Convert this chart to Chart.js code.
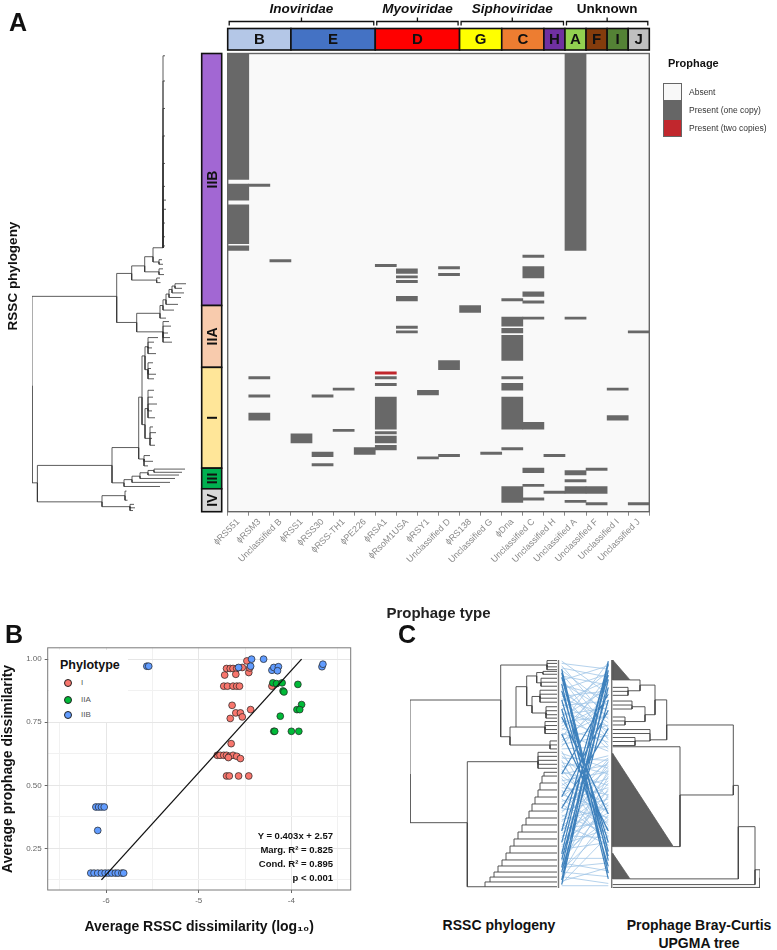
<!DOCTYPE html>
<html>
<head>
<meta charset="utf-8">
<script src="https://cdn.jsdelivr.net/npm/chart.js@4.4.1/dist/chart.umd.min.js"></script>
<style>
  body { margin: 0; width: 777px; height: 950px; position: relative; background: #fff; overflow: hidden;
         font-family: 'Liberation Sans', Arial, sans-serif; color: #111; }
  canvas { position: absolute; }
  .t { position: absolute; white-space: nowrap; line-height: 1; }
  .lg { position: absolute; width: 19px; height: 18px; border: 1px solid #666; box-sizing: border-box; }
  .dot { position: absolute; width: 8px; height: 8px; border-radius: 50%; border: 0.8px solid #222; box-sizing: border-box; }
</style>
</head>
<body>
<canvas id="treeA" width="200" height="630" style="left:0;top:0"></canvas>
<canvas id="heat" width="587" height="630" style="left:190px;top:0"></canvas>
<canvas id="scatter" width="390" height="310" style="left:0;top:640px"></canvas>
<canvas id="tangle" width="382" height="260" style="left:395px;top:640px"></canvas>

<div class="t" style="left:9px;top:10px;font-weight:bold;font-size:25px">A</div>
<div class="t" style="left:13px;top:276px;transform:translate(-50%,-50%) rotate(-90deg);font-weight:bold;font-size:13.5px">RSSC phylogeny</div>

<div class="t" style="left:668px;top:58px;font-weight:bold;font-size:11px">Prophage</div>
<div class="lg" style="left:663px;top:83px;background:#f8f8f8"></div>
<div class="lg" style="left:663px;top:101px;background:#666"></div>
<div class="lg" style="left:663px;top:119px;background:#c1272d"></div>
<div class="t" style="left:689px;top:88px;font-size:8.5px;color:#333">Absent</div>
<div class="t" style="left:689px;top:106px;font-size:8.5px;color:#333">Present (one copy)</div>
<div class="t" style="left:689px;top:124px;font-size:8.5px;color:#333">Present (two copies)</div>

<div class="t" style="left:5px;top:622px;font-weight:bold;font-size:25px">B</div>
<div class="t" style="left:49px;top:650px;width:79px;height:72px;background:#fff"></div>
<div class="t" style="left:60px;top:659px;font-weight:bold;font-size:12.5px">Phylotype</div>
<div class="dot" style="left:64px;top:679px;background:#F8766D"></div>
<div class="dot" style="left:64px;top:696px;background:#00BA38"></div>
<div class="dot" style="left:64px;top:711px;background:#619CFF"></div>
<div class="t" style="left:81px;top:679px;font-size:8px;color:#555">I</div>
<div class="t" style="left:81px;top:696px;font-size:8px;color:#555">IIA</div>
<div class="t" style="left:81px;top:711px;font-size:8px;color:#555">IIB</div>
<div class="t" style="left:333px;top:831px;transform:translateX(-100%);font-weight:bold;font-size:9.5px">Y = 0.403x + 2.57</div>
<div class="t" style="left:333px;top:845px;transform:translateX(-100%);font-weight:bold;font-size:9.5px">Marg. R² = 0.825</div>
<div class="t" style="left:333px;top:859px;transform:translateX(-100%);font-weight:bold;font-size:9.5px">Cond. R² = 0.895</div>
<div class="t" style="left:333px;top:873px;transform:translateX(-100%);font-weight:bold;font-size:9.5px">p &lt; 0.001</div>

<div class="t" style="left:398px;top:622px;font-weight:bold;font-size:25px">C</div>
<div class="t" style="left:499px;top:925px;transform:translate(-50%,-50%);font-weight:bold;font-size:14px">RSSC phylogeny</div>
<div class="t" style="left:699px;top:925px;transform:translate(-50%,-50%);font-weight:bold;font-size:14px">Prophage Bray-Curtis</div>
<div class="t" style="left:699px;top:943px;transform:translate(-50%,-50%);font-weight:bold;font-size:14px">UPGMA tree</div>

<script>
// ---------- panel A : heatmap ----------
const prophageTypes = ['ϕRS551', 'ϕRSM3', 'Unclassified B', 'ϕRSS1', 'ϕRSS30', 'ϕRSS-TH1', 'ϕPE226',
  'ϕRSA1', 'ϕRsoM1USA', 'ϕRSY1', 'Unclassified D', 'ϕRS138', 'Unclassified G', 'ϕDna',
  'Unclassified C', 'Unclassified H', 'Unclassified A', 'Unclassified F', 'Unclassified I', 'Unclassified J'];

// strain rows (0 = top of tree, 200 = bottom) where each prophage is present, one copy
const oneCopy = [
  [[0, 55], [57, 64], [66, 83], [84, 86]],
  [[57, 58], [141, 142], [149, 150], [157, 160]],
  [[90, 91]],
  [[166, 170]],
  [[149, 150], [174, 176], [179, 180]],
  [[146, 147], [164, 165]],
  [[172, 175]],
  [[92, 93], [141, 142], [144, 145], [150, 164], [165, 166], [167, 170], [171, 173]],
  [[94, 96], [97, 98], [99, 100], [106, 108], [119, 120], [121, 122]],
  [[147, 149], [176, 177]],
  [[93, 94], [96, 97], [134, 138], [175, 176]],
  [[110, 113]],
  [[174, 175]],
  [[107, 108], [115, 119], [120, 122], [123, 134], [141, 142], [144, 147], [150, 164], [172, 173], [189, 196]],
  [[88, 89], [93, 98], [104, 106], [108, 109], [115, 116], [161, 164], [181, 183], [188, 189], [194, 195]],
  [[175, 176], [191, 192]],
  [[0, 86], [115, 116], [182, 184], [186, 187], [189, 192], [195, 196]],
  [[181, 182], [189, 192], [196, 197]],
  [[146, 147], [158, 160]],
  [[121, 122], [196, 197]]
];
// two copies
const twoCopies = [[], [], [], [], [], [], [], [[139, 140]], [], [], [], [], [], [], [], [], [], [], [], []];

const phylotypes = ['IIB', 'IIA', 'I', 'III', 'IV'];
const phyloStart = [0, 110, 137, 181, 190];
const phyloEnd = [110, 137, 181, 190, 200];
const phyloColors = ['#A267D3', '#F8CBAD', '#FFE699', '#00B050', '#D9D9D9'];

const groups = ['B', 'E', 'D', 'G', 'C', 'H', 'A', 'F', 'I', 'J'];
const groupStart = [0, 3, 7, 11, 13, 15, 16, 17, 18, 19];
const groupEnd = [3, 7, 11, 13, 15, 16, 17, 18, 19, 20];
const groupColors = ['#B4C7E7', '#4472C4', '#FF0000', '#FFFF00', '#ED7D31', '#7030A0', '#92D050', '#843C0C', '#548235', '#BFBFBF'];

const families = ['Inoviridae', 'Myoviridae', 'Siphoviridae', 'Unknown'];
const famStart = [0, 7, 11, 16];
const famEnd = [7, 11, 16, 20];

// tree of panel A: [depth, row, parent]
const treeA = [
  [0, 145, -1], [84.7, 106, 0], [99.7, 96, 1], [104.7, 117.4, 1], [112.7, 92.7, 2],
  [124.7, 98.9, 2], [128, 98, 5], [128.5, 100, 5], [121, 88.7, 4], [127, 95.3, 4],
  [131, 94, 9], [132, 96.5, 9], [131, 84.8, 8], [127, 91, 8], [130, 90, 13], [131, 92, 13],
  [133, 1, 12], [133, 12, 12], [133, 24, 12], [133, 36, 12], [133, 48, 12], [133, 58, 12],
  [134, 64, 12], [134, 68, 12], [133, 74, 12], [133, 80, 12], [133, 84, 12],
  [128, 113.4, 3], [131, 121.5, 3],
  [137, 117, 28], [139, 119, 28], [136, 122, 28], [138, 124, 28], [140, 126, 28],
  [134, 115.5, 27], [131, 110, 27], [142, 112, 35], [134, 107.5, 35], [146, 109.5, 37],
  [137, 105, 37], [149, 106.5, 39], [140, 103, 39], [152, 104.5, 41], [143, 101.5, 41],
  [154, 100.5, 43], [150, 102.5, 43],
  [5.4, 187.4, 0], [80, 179.8, 46], [70, 195.7, 46], [106.7, 172, 47], [92, 187.4, 47],
  [93, 193, 48], [94.5, 191, 51], [95.5, 195, 51], [98, 197.8, 48],
  [102, 196.8, 54], [103, 198.3, 54], [101, 199.5, 54],
  [128, 189, 50], [100, 186, 50], [138, 187.2, 59], [108, 184.5, 59], [143, 185.5, 61],
  [116, 183, 61], [147, 184, 63], [122, 182, 63], [150, 182.8, 65], [153, 181.4, 65],
  [110, 150, 49], [112, 177, 49], [118, 175.5, 69], [121, 178, 69], [116, 180, 69],
  [113, 132, 68], [113, 162, 68], [116, 128, 73], [116, 138, 73],
  [126, 124, 75], [122, 126, 75], [120, 128.5, 75], [124, 131, 75],
  [121, 135, 76], [119, 137.5, 76], [124, 140, 76], [122, 142, 76],
  [116, 155, 74], [118, 168, 74],
  [122, 147, 85], [121, 150, 85], [125, 153, 85], [120, 156, 85], [123, 159, 85],
  [121, 163, 86], [124, 165.5, 86], [120, 168, 86], [123, 171, 86]
];

// ---------- panel B : scatter ----------
const iX = [-4.72, -4.70, -4.66, -4.63, -4.59, -4.60, -4.53, -4.48, -4.46, -4.45,
  -4.73, -4.69, -4.63, -4.59, -4.56, -4.21, -4.64, -4.60, -4.55, -4.44, -4.66, -4.53, -4.65,
  -4.80, -4.77, -4.73, -4.70, -4.67, -4.63, -4.59, -4.55, -4.68, -4.70, -4.67, -4.57, -4.46];
const iY = [0.937, 0.963, 0.963, 0.963, 0.963, 0.94, 0.967, 0.993, 0.947, 0.965,
  0.893, 0.893, 0.893, 0.893, 0.893, 0.893, 0.817, 0.787, 0.787, 0.80, 0.765, 0.771, 0.665,
  0.619, 0.619, 0.619, 0.619, 0.615, 0.619, 0.615, 0.606, 0.61, 0.537, 0.537, 0.537, 0.537];
const iiaX = [-4.20, -4.16, -4.10, -3.93, -4.09, -4.08, -3.89, -3.94, -3.91, -4.12, -4.19, -4.18, -4.00, -3.92];
const iiaY = [0.906, 0.903, 0.906, 0.90, 0.874, 0.870, 0.82, 0.80, 0.80, 0.774, 0.714, 0.714, 0.714, 0.714];
const iibX = [-6.165, -6.13, -6.09, -6.05, -6.01, -5.975, -5.94, -5.90, -5.87, -5.83, -5.81,
  -6.11, -6.08, -6.05, -6.02, -6.09, -5.56, -5.54,
  -4.57, -4.44, -4.43, -4.30, -4.21, -4.19, -4.14, -4.15, -3.67, -3.66];
const iibY = [0.152, 0.152, 0.152, 0.152, 0.152, 0.152, 0.152, 0.152, 0.152, 0.152, 0.152,
  0.414, 0.414, 0.414, 0.414, 0.321, 0.972, 0.972,
  0.967, 0.972, 1.0, 1.0, 0.956, 0.967, 0.97, 0.954, 0.97, 0.98];
const fitX = [-6.05, -3.89];
const fitY = [0.125, 1.0];

// ---------- panel C : tanglegram ----------
const treeCL = [
  [0, 100, -1], [90.7, 35.1, 0], [57.3, 142.7, 0], [137, 4.4, 1],
  [147, 0.5, 3], [147, 3, 3], [147, 6, 3], [147, 8.5, 3],
  [100, 67.3, 1], [106, 58.8, 8], [140, 74.6, 8], [147, 71, 10], [147, 74.5, 10], [147, 78, 10],
  [116.7, 23.4, 9], [135, 58.8, 9], [147, 54, 15], [147, 57.5, 15], [147, 61, 15], [147, 64.5, 15],
  [126.7, 14, 14], [122, 40, 14], [133, 11, 20], [147, 10, 22], [147, 12.5, 22],
  [131, 20, 20], [147, 16, 25], [147, 19.5, 25], [147, 23, 25],
  [130, 32, 21], [147, 26.5, 29], [147, 30, 29], [147, 33.5, 29], [147, 37, 29],
  [136, 46.5, 21], [147, 41, 34], [147, 44.5, 34], [147, 48, 34], [147, 51, 34],
  [128, 89.2, 2], [147, 81, 39], [147, 84.5, 39], [147, 88, 39], [147, 91.5, 39], [147, 95, 39]
];
const stairX = [75, 80, 84, 88, 92, 96, 100, 104, 108, 112, 116, 119, 122, 125, 128, 130, 132, 134];
const stairRow = [198.9, 194.7, 190.4, 186, 180.7, 175.4, 169.3, 163.2, 157, 150.9, 144.7, 138.6, 132.5, 126.3, 120.2, 114, 107.9, 101.8];
const treeCR = [
  [350, 191, -1], [345, 184, 0], [202.7, 199.5, 0], [328.3, 146.2, 1], [202.7, 197, 1],
  [323.3, 110, 3], [220, 192, 3], [256.7, 57, 5], [270, 118.4, 5], [202.7, 76.1, 8], [263.3, 163.7, 8],
  [245, 35, 7], [240, 70, 7], [230, 22, 11], [235, 48, 11], [220, 17.5, 13], [218, 27, 13],
  [202.7, 24, 16], [202.7, 27.5, 16], [202.7, 31, 16], [222, 41, 14], [215, 54, 14],
  [202.7, 36, 20], [202.7, 39.5, 20], [202.7, 43, 20], [202.7, 50, 21], [202.7, 53.5, 21], [202.7, 57, 21],
  [202.7, 61, 12], [202.7, 64.5, 12], [225, 71, 12], [202.7, 68, 30], [202.7, 71.5, 30], [202.7, 75, 30]
];
const triangles = [
  [[202.7, 0], [202.7, 17.5], [220, 17.5]],
  [[202.7, 82], [202.7, 163.7], [263.3, 163.7]],
  [[202.7, 169.6], [202.7, 192], [220, 192]]
];
const connLight = [[1, 30], [3, 8], [5, 52], [7, 15], [9, 40], [12, 60], [14, 22], [16, 70], [18, 5], [20, 45],
  [22, 33], [24, 65], [26, 12], [28, 55], [30, 75], [32, 27], [34, 48], [36, 18], [38, 62], [40, 36],
  [42, 78], [44, 10], [46, 58], [48, 42], [50, 25], [52, 68], [54, 50], [56, 2], [58, 38], [60, 72],
  [62, 20], [64, 80], [66, 47], [68, 14], [70, 57], [72, 35], [74, 66], [76, 28], [78, 76],
  [80, 150], [82, 95], [84, 120], [86, 88], [88, 160], [90, 100], [92, 135], [94, 84], [96, 145], [98, 110],
  [100, 92], [102, 128], [104, 155], [106, 98], [108, 140], [110, 86], [112, 118], [114, 163], [116, 104],
  [118, 132], [120, 90], [122, 148], [124, 112], [126, 158], [128, 96], [130, 138], [132, 122], [134, 87],
  [136, 152], [138, 106], [140, 130], [142, 93], [144, 162], [146, 115], [148, 142], [150, 100], [152, 125],
  [154, 156], [156, 89], [158, 134], [160, 108], [162, 148], [164, 120], [166, 160], [168, 97], [170, 140],
  [172, 113], [174, 174], [176, 127], [178, 185], [180, 102], [182, 178], [184, 146], [186, 190], [188, 118],
  [190, 196], [192, 136], [194, 182], [196, 154], [198, 198]];
const connDark = [[8, 176], [11, 187], [15, 168], [21, 192], [27, 160], [35, 172], [43, 181], [150, 4],
  [160, 13], [170, 1], [175, 24], [182, 9], [186, 35], [193, 3], [197, 17], [120, 44], [130, 60],
  [100, 30], [65, 150], [50, 135]];

Chart.defaults.font.family = "'Liberation Sans', Arial, sans-serif";
Chart.defaults.animation = false;
Chart.defaults.responsive = false;
Chart.defaults.plugins.legend.display = false;
Chart.defaults.plugins.tooltip.enabled = false;

// turn a [depth,row,parent] list into rectangular branch segments
function treeLines(nodes) {
  const pts = [];
  nodes.forEach(n => {
    if (n[2] < 0) return;
    const p = nodes[n[2]];
    pts.push({x: p[0], y: p[1]}, {x: p[0], y: n[1]}, {x: n[0], y: n[1]}, {x: null, y: null});
  });
  return pts;
}
function lineSet(data, color, width) {
  return {data, showLine: true, borderColor: color, borderWidth: width, pointRadius: 0, spanGaps: false, fill: false};
}

// ----- tree A -----
new Chart(document.getElementById('treeA'), {
  type: 'scatter',
  data: {datasets: [lineSet(treeLines(treeA), '#333', 0.8)]},
  options: {
    layout: {padding: {left: 32, right: 8, top: 53.5, bottom: 118.3}},
    scales: {
      x: {type: 'linear', min: 0, max: 160, display: false},
      y: {type: 'linear', min: 0, max: 200, reverse: true, display: false}
    }
  }
});

// ----- heatmap -----
const heatSets = [];
const maxSeg = Math.max(...oneCopy.map(c => c.length));
for (let k = 0; k < maxSeg; k++) {
  heatSets.push({data: oneCopy.map(c => c[k] || null), backgroundColor: '#686868'});
}
heatSets.push({data: twoCopies.map(c => c[0] || null), backgroundColor: '#c1272d'});
heatSets.forEach(d => Object.assign(d, {barPercentage: 1, categoryPercentage: 1, grouped: false, borderWidth: 0}));

const heatDecor = {
  id: 'heatDecor',
  beforeDatasetsDraw(chart) {
    const {ctx, chartArea: a} = chart;
    ctx.save();
    ctx.fillStyle = '#f9f9f9';
    ctx.fillRect(a.left, a.top, a.width, a.height);
    ctx.restore();
  },
  afterDatasetsDraw(chart) {
    const {ctx, chartArea: a, scales: {x, y}} = chart;
    ctx.save();
    ctx.strokeStyle = '#666';
    ctx.lineWidth = 1.4;
    ctx.strokeRect(a.left, a.top, a.width, a.height);

    // phylotype strip
    ctx.strokeStyle = '#111';
    ctx.lineWidth = 1.6;
    phylotypes.forEach((p, i) => {
      const y0 = y.getPixelForValue(phyloStart[i]), y1 = y.getPixelForValue(phyloEnd[i]);
      const x0 = a.left - 26, w = 20;
      ctx.fillStyle = phyloColors[i];
      ctx.fillRect(x0, y0, w, y1 - y0);
      ctx.strokeRect(x0, y0, w, y1 - y0);
      ctx.save();
      ctx.translate(x0 + w / 2 + 1, (y0 + y1) / 2);
      ctx.rotate(-Math.PI / 2);
      ctx.fillStyle = '#111';
      ctx.font = "bold 14px 'Liberation Sans'";
      ctx.textAlign = 'center';
      ctx.textBaseline = 'middle';
      ctx.fillText(p, 0, 0);
      ctx.restore();
    });

    // group boxes
    const top = a.top - 25, h = 21.5;
    groups.forEach((g, i) => {
      const x0 = x.getPixelForValue(groupStart[i] - 0.5), x1 = x.getPixelForValue(groupEnd[i] - 0.5);
      ctx.fillStyle = groupColors[i];
      ctx.fillRect(x0, top, x1 - x0, h);
      ctx.strokeRect(x0, top, x1 - x0, h);
      ctx.fillStyle = '#111';
      ctx.font = "bold 15px 'Liberation Sans'";
      ctx.textAlign = 'center';
      ctx.textBaseline = 'middle';
      ctx.fillText(g, (x0 + x1) / 2, top + h / 2 + 1);
    });

    // family brackets
    ctx.lineWidth = 1.3;
    const by = a.top - 32;
    families.forEach((f, i) => {
      const x0 = x.getPixelForValue(famStart[i] - 0.5) + 1.5, x1 = x.getPixelForValue(famEnd[i] - 0.5) - 1.5;
      const xm = (x0 + x1) / 2;
      ctx.beginPath();
      ctx.moveTo(x0, by + 4); ctx.lineTo(x0, by); ctx.lineTo(x1, by); ctx.lineTo(x1, by + 4);
      ctx.moveTo(xm, by); ctx.lineTo(xm, by - 4);
      ctx.stroke();
      ctx.font = (f === 'Unknown' ? '' : 'italic ') + "bold 13.5px 'Liberation Sans'";
      ctx.textAlign = 'center';
      ctx.textBaseline = 'middle';
      ctx.fillText(f, xm, 9);
    });
    ctx.restore();
  }
};

new Chart(document.getElementById('heat'), {
  type: 'bar',
  data: {labels: prophageTypes, datasets: heatSets},
  options: {
    layout: {padding: {left: 37.7, right: 127.7, top: 53.5, bottom: 0}},
    scales: {
      x: {
        type: 'category', offset: true,
        grid: {display: true, drawOnChartArea: false, tickLength: 4, color: '#888'},
        border: {display: false},
        ticks: {autoSkip: false, minRotation: 45, maxRotation: 45, padding: 1, color: '#8a8a8a', font: {size: 9}},
        title: {display: true, text: 'Prophage type', color: '#222', font: {size: 15, weight: 'bold'}, padding: {top: 0, bottom: 7}},
        afterFit: s => { s.height = 118.3; }
      },
      y: {type: 'linear', min: 0, max: 200, reverse: true, display: false}
    }
  },
  plugins: [heatDecor]
});

// ----- panel B -----
const isMajor = (v, step) => Math.abs(v / step - Math.round(v / step)) < 1e-6;
const panelBorder = {
  id: 'panelBorder',
  afterDraw(chart) {
    const {ctx, chartArea: a} = chart;
    ctx.save();
    ctx.strokeStyle = '#7a7a7a';
    ctx.lineWidth = 1;
    ctx.strokeRect(a.left, a.top, a.width, a.height);
    ctx.restore();
  }
};
const pts = (xs, ys) => xs.map((v, i) => ({x: v, y: ys[i]}));
const dotStyle = c => ({backgroundColor: c, borderColor: '#222', borderWidth: 0.7, pointRadius: 3.4});

new Chart(document.getElementById('scatter'), {
  type: 'scatter',
  data: {
    datasets: [
      {label: 'fit', data: pts(fitX, fitY), showLine: true, borderColor: '#111', borderWidth: 1.3, pointRadius: 0},
      {label: 'IIB', data: pts(iibX, iibY), ...dotStyle('#619CFF')},
      {label: 'IIA', data: pts(iiaX, iiaY), ...dotStyle('#00BA38')},
      {label: 'I', data: pts(iX, iY), ...dotStyle('#F8766D')}
    ]
  },
  options: {
    layout: {padding: {left: 0, right: 39.3, top: 7.7, bottom: 0}},
    scales: {
      x: {
        type: 'linear', min: -6.63, max: -3.36,
        ticks: {stepSize: 0.5, includeBounds: false, color: '#666', font: {size: 8}, padding: 3,
          callback: v => isMajor(v, 1) ? String(v) : ''},
        grid: {tickLength: 3,
          color: c => isMajor(c.tick.value, 1) ? '#e6e6e6' : '#f1f1f1',
          tickColor: c => isMajor(c.tick.value, 1) ? '#666' : 'transparent'},
        border: {display: false},
        title: {display: true, text: 'Average RSSC dissimilarity (log₁₀)', color: '#111', font: {size: 14, weight: 'bold'}, padding: {top: 0, bottom: 14}},
        afterFit: s => { s.height = 60; }
      },
      y: {
        type: 'linear', min: 0.085, max: 1.045,
        ticks: {stepSize: 0.125, includeBounds: false, color: '#666', font: {size: 8}, padding: 3,
          callback: v => isMajor(v, 0.25) ? v.toFixed(2) : ''},
        grid: {tickLength: 3,
          color: c => isMajor(c.tick.value, 0.25) ? '#e6e6e6' : '#f1f1f1',
          tickColor: c => isMajor(c.tick.value, 0.25) ? '#666' : 'transparent'},
        border: {display: false},
        title: {display: true, text: 'Average prophage dissimilarity', color: '#111', font: {size: 14, weight: 'bold'}, padding: {top: 0, bottom: 0}},
        afterFit: s => { s.width = 47.7; }
      }
    }
  },
  plugins: [panelBorder]
});

// ----- panel C -----
const leftNodes = treeCL.map(n => n.slice());
let prev = 2;
stairX.forEach((sx, k) => {
  leftNodes.push([sx, stairRow[k], prev]);
  prev = leftNodes.length - 1;
  leftNodes.push([147, stairRow[k], prev]);
});
leftNodes.push([147, 98.5, prev]);

function connLines(pairs) {
  const out = [];
  pairs.forEach(p => out.push({x: 151.7, y: p[0]}, {x: 198.3, y: p[1]}, {x: null, y: null}));
  return out;
}
const triSets = triangles.map(t => ({
  data: [...t, t[0]].map(p => ({x: p[0], y: p[1]})),
  showLine: true, borderColor: '#5a5a5a', borderWidth: 0.8, backgroundColor: '#5f5f5f', pointRadius: 0, fill: 'shape'
}));

new Chart(document.getElementById('tangle'), {
  type: 'scatter',
  data: {
    datasets: [
      lineSet(treeLines(leftNodes), '#444', 0.9),
      lineSet(treeLines(treeCR), '#444', 0.9),
      ...triSets,
      lineSet([{x: 148.5, y: 0}, {x: 148.5, y: 200}], '#777', 1.4),
      lineSet([{x: 201.7, y: 0}, {x: 201.7, y: 200}], '#777', 1.4),
      lineSet(connLines(connDark), 'rgba(46,117,182,0.9)', 1.2),
      lineSet(connLines(connLight), 'rgba(157,195,230,0.95)', 0.8)
    ]
  },
  options: {
    layout: {padding: {left: 15, right: 17, top: 20, bottom: 12}},
    scales: {
      x: {type: 'linear', min: 0, max: 350, display: false},
      y: {type: 'linear', min: 0, max: 200, reverse: true, display: false}
    }
  }
});
</script>
</body>
</html>
